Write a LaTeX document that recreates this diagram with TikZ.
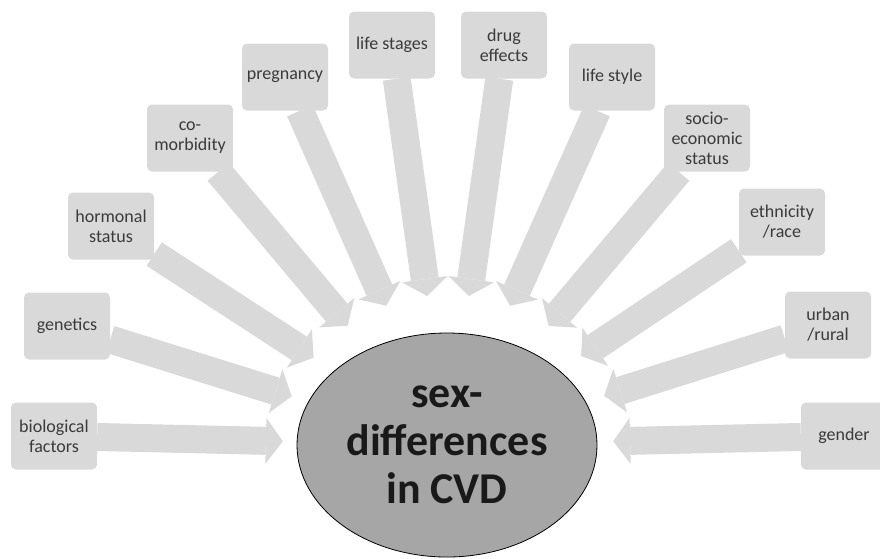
\documentclass[tikz,border=0pt]{standalone}
\usepackage{fontspec}
\setmainfont{Carlito}
\usepackage{tikz}
\usetikzlibrary{shapes.geometric,arrows.meta}

\definecolor{factorgray}{HTML}{D9D9D9}
\definecolor{centergray}{HTML}{A6A6A6}
\definecolor{labelgray}{HTML}{3A3A3A}

\begin{document}
\begin{tikzpicture}[
x=1pt, y=-1pt,
factor/.style={
	rectangle,
	rounded corners=5pt,
	fill=factorgray,
	text=labelgray,
	align=center,
	inner sep=2pt,
	minimum width=86pt,
	minimum height=67pt,
	font=\fontsize{18}{20}\selectfont
},
outcome/.style={
	ellipse,
	draw=black,
	line width=0.8pt,
	fill=centergray,
	text=black!90,
	align=center,
	inner sep=0pt,
	minimum width=300pt,
	minimum height=224pt,
	font=\bfseries\fontsize{44}{48}\selectfont
},
ring/.style={
	ellipse,
	inner sep=0pt,
	minimum width=330pt,
	minimum height=300pt
},
arrow/.style={color=factorgray, line width=28pt, -{Triangle[length=17pt, width=46pt, line width=0pt]}}
]

\useasboundingbox (0,0) rectangle (880,558);

\node[outcome] (cvd) at (447,445) {sex-\\differences\\in CVD};
\node[ring] (tips) at (448,445) {};

\node[factor] (biological) at (54,436) {biological\\factors};
\node[factor] (genetics) at (67,326) {genetics};
\node[factor] (hormonal) at (111,226) {hormonal\\status};
\node[factor] (comorbidity) at (190,138) {co-\\morbidity};
\node[factor] (pregnancy) at (285,77) {pregnancy};
\node[factor] (stages) at (392,45) {life stages};
\node[factor] (drugs) at (504,45) {drug\\effects};
\node[factor] (lifestyle) at (612,77) {life style};
\node[factor] (socio) at (707,138) {socio-\\economic\\status};
\node[factor] (ethnicity) at (782,222) {ethnicity\\/race};
\node[factor] (urban) at (828,325) {urban\\/rural};
\node[factor] (gender) at (844,436) {gender};

\draw[arrow] (biological) -- (tips);
\draw[arrow] (genetics) -- (tips);
\draw[arrow] (hormonal) -- (tips);
\draw[arrow] (comorbidity) -- (tips);
\draw[arrow] (pregnancy) -- (tips);
\draw[arrow] (stages) -- (tips);
\draw[arrow] (drugs) -- (tips);
\draw[arrow] (lifestyle) -- (tips);
\draw[arrow] (socio) -- (tips);
\draw[arrow] (ethnicity) -- (tips);
\draw[arrow] (urban) -- (tips);
\draw[arrow] (gender) -- (tips);

\end{tikzpicture}
\end{document}
